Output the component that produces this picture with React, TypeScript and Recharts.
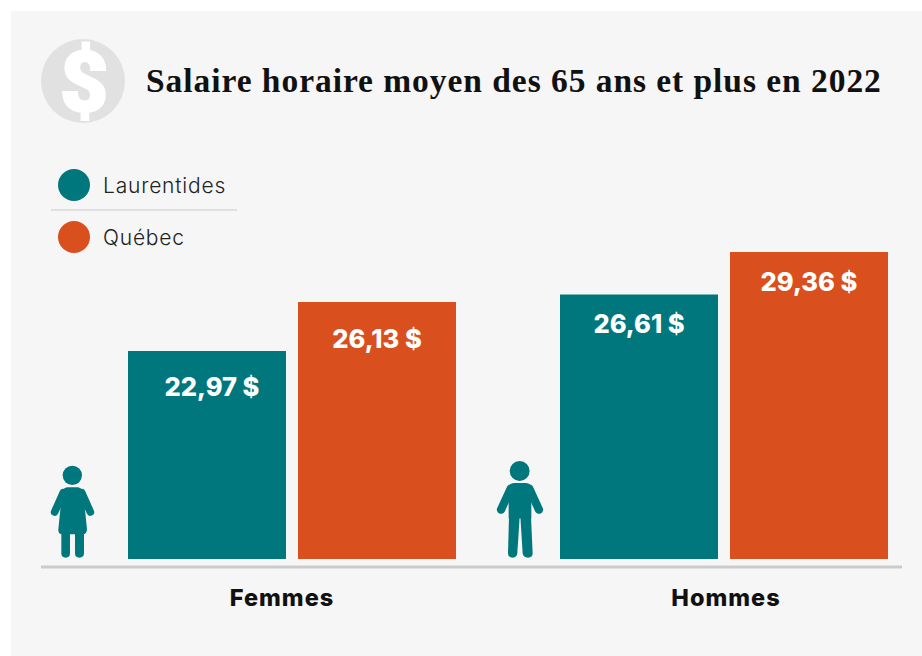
import { BarChart, Bar, XAxis, YAxis, LabelList, Legend } from 'recharts';

const categories = ['Femmes', 'Hommes'];
const laurentides = [22.97, 26.61];
const quebec = [26.13, 29.36];
const seriesNames = ['Laurentides', 'Québec'];
const axisFloor = 9.54;

const TEAL = '#00777c';
const ORANGE = '#d9501e';
const PANEL = '#f6f6f6';
const SANS = 'Inter, sans-serif';

const data = categories.map((name, i) => ({
  name,
  laurentides: laurentides[i],
  quebec: quebec[i],
}));

const money = (v: number) => `${v.toFixed(2).replace('.', ',')} $`;

// small hand nudges, the source labels are not sitting at a constant distance from the bar top
const labelNudge: Record<string, [number, number]> = {
  '22.97': [5, 36],
  '26.13': [0, 36],
  '26.61': [0, 29],
  '29.36': [0, 29],
};

function ValueLabel(props: any) {
  const { x, y, width, value } = props;
  const [dx, dy] = labelNudge[String(value)] ?? [0, 30];
  return (
    <text
      x={x + width / 2 + dx}
      y={y + dy}
      textAnchor="middle"
      dominantBaseline="central"
      fill="#fff"
      style={{ fontFamily: SANS, fontSize: 25.5, fontWeight: 800 }}
    >
      {money(value)}
    </text>
  );
}

function CategoryTick(props: any) {
  const { x, y, payload } = props;
  const dx = payload.value === 'Femmes' ? -10 : 2;
  return (
    <text
      x={x + dx}
      y={y + 30}
      textAnchor="middle"
      dominantBaseline="central"
      fill="#111"
      style={{ fontFamily: SANS, fontSize: 23.5, fontWeight: 800, letterSpacing: 1 }}
    >
      {payload.value}
    </text>
  );
}

function LegendBox() {
  const colors = [TEAL, ORANGE];
  return (
    <svg width={200} height={90} style={{ display: 'block', overflow: 'visible' }}>
      {seriesNames.map((name, i) => (
        <g key={name} transform={`translate(0, ${i * 52})`}>
          <circle cx={23} cy={16} r={16} fill={colors[i]} />
          <text
            x={52}
            y={16}
            dominantBaseline="central"
            fill="#222"
            style={{ fontFamily: SANS, fontSize: 21, fontWeight: 300, letterSpacing: 0.8 }}
          >
            {name}
          </text>
        </g>
      ))}
      <line x1={0} x2={186} y1={41} y2={41} stroke="#c9c9c9" strokeWidth={1} />
    </svg>
  );
}

function WomanIcon() {
  return (
    <g transform="translate(30, 450) scale(0.3333)" fill={TEAL} stroke="none">
      <circle cx={127} cy={76} r={29} />
      <line x1={100} y1={128} x2={74} y2={186} stroke={TEAL} strokeWidth={23} strokeLinecap="round" />
      <line x1={155} y1={128} x2={181} y2={186} stroke={TEAL} strokeWidth={23} strokeLinecap="round" />
      <path d="M112 112 L143 112 Q156 112 160 130 L171 238 Q171 253 158 253 L97 253 Q84 253 85 238 L96 130 Q99 112 112 112 Z" />
      <path d="M94 250 L120 250 L120 310 Q120 323 107 323 Q94 323 94 310 Z" />
      <path d="M135 250 L162 250 L162 310 Q162 323 148 323 Q135 323 135 310 Z" />
    </g>
  );
}

function ManIcon() {
  return (
    <g transform="translate(480, 450) scale(0.3333)" fill={TEAL} stroke="none">
      <circle cx={119} cy={63} r={30} />
      <line x1={92} y1={116} x2={63} y2={179} stroke={TEAL} strokeWidth={25} strokeLinecap="round" />
      <line x1={148} y1={116} x2={177} y2={179} stroke={TEAL} strokeWidth={25} strokeLinecap="round" />
      <path d="M102 99 L138 99 Q154 99 154 118 L154 205 L86 205 L86 118 Q86 99 102 99 Z" />
      <path d="M87 200 L119 200 L112 310 Q110 323 98 323 Q84 323 84 310 Z" />
      <path d="M121 200 L153 200 L158 310 Q158 323 144 323 Q130 323 128 310 Z" />
    </g>
  );
}

export default function App() {
  return (
    <div style={{ position: 'absolute', left: 0, top: 0, width: 922, height: 656, overflow: 'hidden', background: '#fff' }}>
      <div style={{ position: 'absolute', left: 11, top: 11, width: 911, height: 645, background: PANEL }} />

      {/* Header */}
      <svg width={922} height={140} style={{ position: 'absolute', left: 0, top: 0 }}>
        <circle cx={83} cy={81} r={42} fill="#e1e1e1" />
        <text
          x={84}
          y={82}
          textAnchor="middle"
          dominantBaseline="central"
          fill="#fff"
          stroke="#fff"
          strokeWidth={2}
          style={{ fontFamily: 'Roboto, sans-serif', fontSize: 84, fontWeight: 900 }}
        >
          $
        </text>
        <text
          x={146}
          y={80}
          dominantBaseline="central"
          fill="#111"
          style={{ fontFamily: '"Liberation Serif", serif', fontSize: 33.5, fontWeight: 700, letterSpacing: 0.95 }}
        >
          Salaire horaire moyen des 65 ans et plus en 2022
        </text>
      </svg>

      <div style={{ position: 'absolute', left: 0, top: 0 }}>
        <BarChart
          width={940}
          height={656}
          data={data}
          margin={{ top: 252, right: 0, bottom: 0, left: 76 }}
          barSize={158}
          barGap={12}
          barCategoryGap={52}
        >
          <XAxis dataKey="name" axisLine={false} tickLine={false} height={97} tick={<CategoryTick />} interval={0} />
          <YAxis hide domain={[axisFloor, 29.36]} allowDataOverflow />
          <Legend
            layout="vertical"
            align="center"
            verticalAlign="middle"
            content={<LegendBox />}
            wrapperStyle={{ position: 'absolute', left: 51, top: 169, width: 200 }}
          />
          <Bar dataKey="laurentides" name="Laurentides" fill={TEAL} isAnimationActive={false}>
            <LabelList dataKey="laurentides" content={<ValueLabel />} />
          </Bar>
          <Bar dataKey="quebec" name="Québec" fill={ORANGE} isAnimationActive={false}>
            <LabelList dataKey="quebec" content={<ValueLabel />} />
          </Bar>
        </BarChart>
      </div>

      {/* Baseline and pictograms */}
      <svg width={922} height={656} style={{ position: 'absolute', left: 0, top: 0, pointerEvents: 'none' }}>
        <line x1={41} x2={902} y1={567} y2={567} stroke="#cbcbcb" strokeWidth={3} />
        <WomanIcon />
        <ManIcon />
      </svg>
    </div>
  );
}
